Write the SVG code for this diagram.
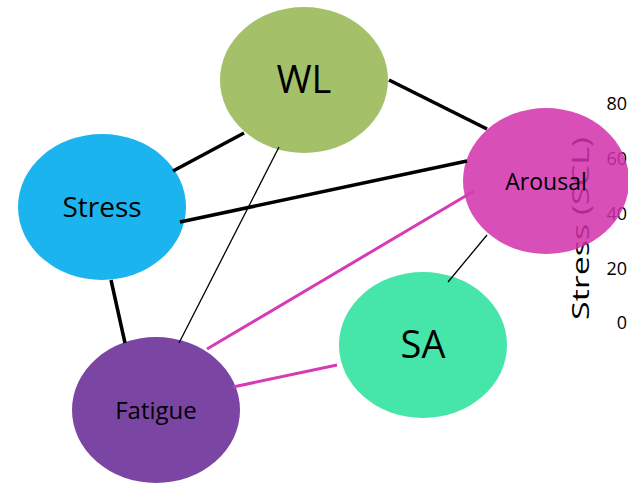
<svg xmlns="http://www.w3.org/2000/svg" width="628" height="484" viewBox="0 0 628 484">
  <style>
    .lbl { font-family: "Open Sans", "Noto Sans", sans-serif; fill: #000; text-anchor: middle; }
    .axis { font-family: "Open Sans", "Noto Sans", sans-serif; fill: #000; }
    .thick { stroke: #000; stroke-width: 3.5; fill: none; }
    .thin { stroke: #000; stroke-width: 1.3; fill: none; }
    .pink { stroke: #D63BB6; stroke-width: 3; fill: none; }
  </style>

  <!-- partial chart axis behind the graph -->
  <g id="axis">
    <text class="axis" font-size="18" text-anchor="end" x="627" y="110">80</text>
    <text class="axis" font-size="18" text-anchor="end" x="627" y="165">60</text>
    <text class="axis" font-size="18" text-anchor="end" x="627" y="220">40</text>
    <text class="axis" font-size="18" text-anchor="end" x="627" y="275">20</text>
    <text class="axis" font-size="18" text-anchor="end" x="627" y="329">0</text>
    <text class="axis" font-size="23" transform="translate(589,320) rotate(-90)" textLength="183" lengthAdjust="spacingAndGlyphs">Stress (SCL)</text>
  </g>

  <g id="node-wl">
    <ellipse cx="304" cy="80" rx="84" ry="73" fill="#A4C16A"/>
    <text class="lbl" x="304" y="93" font-size="38">WL</text>
  </g>
  <g id="node-stress">
    <ellipse cx="102" cy="207" rx="84" ry="73" fill="#1CB4EE"/>
    <text class="lbl" x="102" y="217" font-size="28">Stress</text>
  </g>
  <g id="node-arousal">
    <ellipse cx="546" cy="181" rx="83" ry="73" fill="#D230AC" fill-opacity="0.85"/>
    <text class="lbl" x="546" y="190" font-size="23">Arousal</text>
  </g>
  <g id="node-sa">
    <ellipse cx="423" cy="345" rx="84" ry="73" fill="#46E5A9"/>
    <text class="lbl" x="423" y="358" font-size="38">SA</text>
  </g>
  <g id="node-fatigue">
    <ellipse cx="156" cy="410" rx="84" ry="73" fill="#7B45A3"/>
    <text class="lbl" x="156" y="419" font-size="24">Fatigue</text>
  </g>

  <g id="connectors">
    <line class="thick" x1="173" y1="171" x2="244" y2="133"/>
    <line class="thick" x1="389" y1="80" x2="487" y2="129"/>
    <line class="thick" x1="180" y1="222" x2="467" y2="161"/>
    <line class="thick" x1="111" y1="280" x2="125" y2="343"/>
    <line class="thin" x1="279" y1="147" x2="179" y2="343"/>
    <line class="thin" x1="487" y1="235" x2="448" y2="282"/>
    <line class="pink" x1="207" y1="349" x2="474" y2="191"/>
    <line class="pink" x1="233" y1="387" x2="337" y2="365"/>
  </g>
</svg>
